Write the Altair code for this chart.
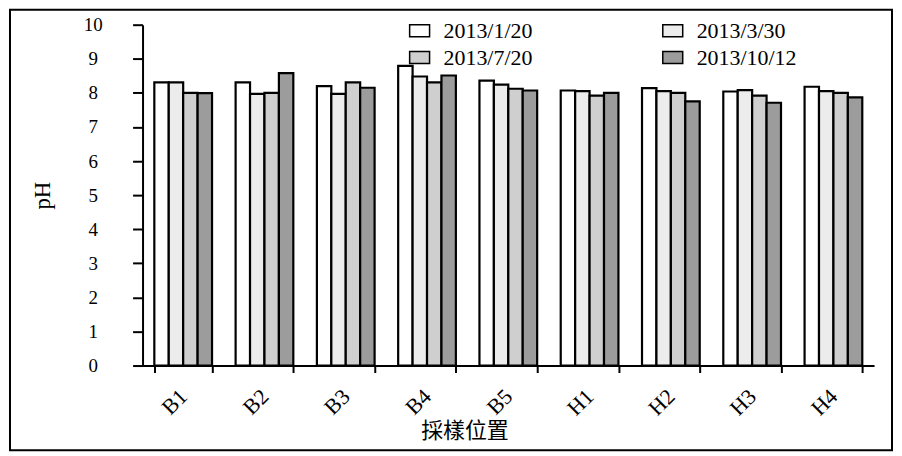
import altair as alt
import pandas as pd

sites = ["B1", "B2", "B3", "B4", "B5", "H1", "H2", "H3", "H4"]
dates = ["2013/1/20", "2013/3/30", "2013/7/20", "2013/10/12"]
ph_0120 = [8.31, 8.31, 8.20, 8.79, 8.36, 8.07, 8.14, 8.04, 8.18]
ph_0330 = [8.31, 7.97, 7.97, 8.48, 8.24, 8.05, 8.05, 8.08, 8.05]
ph_0720 = [8.00, 8.00, 8.31, 8.31, 8.12, 7.92, 8.00, 7.92, 8.00]
ph_1012 = [7.99, 8.58, 8.15, 8.51, 8.07, 8.00, 7.75, 7.71, 7.87]
fills = ["#ffffff", "#ececec", "#cfcfcf", "#9c9c9c"]

rows = []
for d, vals in zip(dates, [ph_0120, ph_0330, ph_0720, ph_1012]):
    for s, v in zip(sites, vals):
        rows.append({"site": s, "date": d, "pH": v})
df = pd.DataFrame(rows)

serif = "Liberation Serif"

bars = alt.Chart(df).mark_bar(stroke="black", strokeWidth=2.2).encode(
    x=alt.X("site:N", sort=sites,
            scale=alt.Scale(paddingInner=0.29, paddingOuter=0.145),
            axis=alt.Axis(title="採樣位置", titleFont="Noto Sans CJK TC",
                          titleFontSize=22, titleFontWeight="normal",
                          titleX=323, titleY=65, titleBaseline="middle",
                          labelAngle=-45, labelAlign="right", labelBaseline="middle",
                          labelFont=serif, labelFontSize=22, labelPadding=20,
                          tickBand="extent", tickSize=7, tickWidth=2,
                          tickColor="black", domainColor="black", domainWidth=2,
                          labelColor="black", titleColor="black")),
    xOffset=alt.XOffset("date:N", sort=dates,
                        scale=alt.Scale(domain=dates, paddingInner=0, paddingOuter=0)),
    y=alt.Y("pH:Q", scale=alt.Scale(domain=[0, 10], nice=False),
            axis=alt.Axis(values=list(range(11)), title="pH", titleFont=serif,
                          titleFontSize=23, titleFontWeight="normal",
                          titleX=-100, titleY=171, titleAlign="center", titleBaseline="middle",
                          labelFont=serif, labelFontSize=19, labelAlign="center",
                          labelPadding=40, tickSize=10, tickWidth=2, tickColor="black",
                          domainColor="black", domainWidth=2, grid=False,
                          labelColor="black", titleColor="black")),
    fill=alt.Fill("date:N", sort=dates,
                  scale=alt.Scale(domain=dates, range=fills),
                  legend=alt.Legend(title=None, orient="none", legendX=267, legendY=-5,
                                    direction="horizontal",
                                    columns=2, columnPadding=127, rowPadding=5,
                                    symbolType="M-1,-0.6L1,-0.6L1,0.6L-1,0.6Z",
                                    symbolSize=400, symbolStrokeColor="black",
                                    symbolStrokeWidth=1.5, labelFont=serif,
                                    labelFontSize=22, labelOffset=13, padding=0,
                                    labelColor="black")),
)

frame = alt.Chart(pd.DataFrame({"k": [0]})).mark_rect(
    fill=None, stroke="black", strokeWidth=2
).encode(
    x=alt.value(-133), x2=alt.value(752), y=alt.value(-15), y2=alt.value(427)
)

chart = alt.layer(bars, frame).properties(
    width=734, height=342,
    autosize=alt.AutoSizeParams(type="none"),
    padding={"left": 135, "top": 16, "right": 20, "bottom": 86},
    background="white",
).configure_view(stroke=None)

chart.save("out.html", embed_options={"renderer": "svg", "actions": False})
